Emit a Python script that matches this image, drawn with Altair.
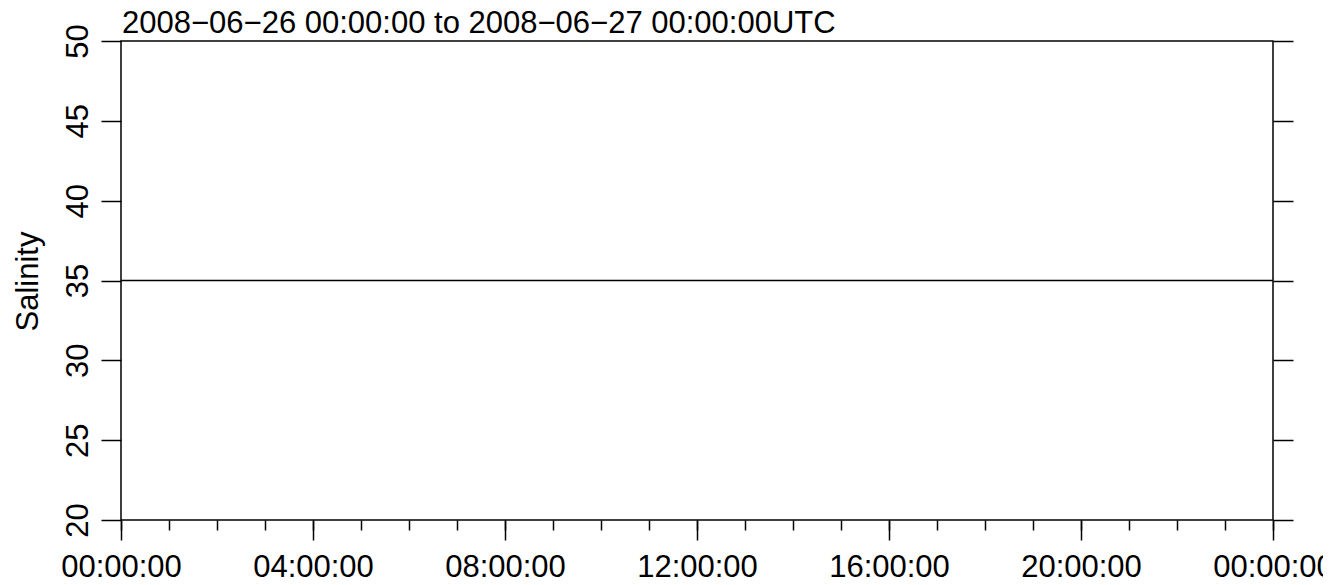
import altair as alt
import pandas as pd

# ---- data ----
times = ["2008-06-26T00:00:00Z", "2008-06-27T00:00:00Z"]
salinity = [35, 35]
title_text = ["2008\u221206\u221226 00:00:00 to 2008\u221206\u221227 00:00:00UTC"]
major_hours = [0, 4, 8, 12, 16, 20, 24]
minor_hours = list(range(0, 25))
y_ticks = [20, 25, 30, 35, 40, 45, 50]

df = pd.DataFrame({"time": times, "salinity": salinity})
tdf = pd.DataFrame({"t": title_text})

FONT = "Liberation Sans"
FS = 31


def hour_dt(h):
    if h >= 24:
        return alt.DateTime(year=2008, month=6, date=27, hours=h - 24, utc=True)
    return alt.DateTime(year=2008, month=6, date=26, hours=h, utc=True)


xscale = alt.Scale(type="utc", domain=[hour_dt(0), hour_dt(24)], nice=False)
yscale = alt.Scale(domain=[20, 50], nice=False, zero=False)

major_axis = alt.Axis(
    orient="bottom", values=[hour_dt(h) for h in major_hours],
    labelExpr="utcFormat(datum.value, '%H:%M:%S')",
    tickSize=20, tickWidth=1.5, tickColor="black", domain=False,
    grid=False, labelFont=FONT, labelFontSize=FS, labelColor="black",
    labelBaseline="alphabetic", labelPadding=36, labelAlign="center",
    labelOverlap=False, labelFlush=False, title=None,
)
minor_axis = alt.Axis(
    orient="bottom", values=[hour_dt(h) for h in minor_hours], tickSize=10,
    tickWidth=1.5, tickColor="black", domain=False, grid=False, labels=False,
    title=None,
)
left_axis = alt.Axis(
    orient="left", values=y_ticks, tickSize=20, tickWidth=1.5, tickColor="black",
    domain=False, grid=False, labelFont=FONT, labelFontSize=FS, labelColor="black",
    labelAngle=270, labelAlign="center", labelBaseline="alphabetic",
    labelPadding=14, labelOverlap=False, labelFlush=False,
    title="Salinity", titleFont=FONT, titleFontSize=FS, titleFontWeight="normal",
    titleColor="black", titleAngle=270, titleAlign="center",
    titleBaseline="alphabetic", titleX=-84, titleY=240,
)
right_axis = alt.Axis(
    orient="right", values=y_ticks, tickSize=20, tickWidth=1.5, tickColor="black",
    domain=False, grid=False, labels=False, title=None,
)

line = alt.Chart(df).mark_line(color="black", strokeWidth=1.5).encode(
    x=alt.X("time:T", scale=xscale, axis=major_axis),
    y=alt.Y("salinity:Q", scale=yscale, axis=left_axis),
)
ghost = alt.Chart(df).mark_line(opacity=0).encode(
    x=alt.X("time:T", scale=xscale, axis=minor_axis),
    y=alt.Y("salinity:Q", scale=yscale, axis=right_axis),
)
title = alt.Chart(tdf).mark_text(
    font=FONT, fontSize=FS, color="black", align="left", baseline="alphabetic"
).encode(text="t:N", x=alt.value(1), y=alt.value(-8))

chart = (
    alt.layer(line, ghost, title)
    .resolve_axis(x="independent", y="independent")
    .properties(
        width=1152, height=479,
        background="white",
        autosize=alt.AutoSizeParams(type="none"),
        padding={"left": 113, "top": 33, "right": 50, "bottom": 57},
    )
    .configure_view(stroke="black", strokeWidth=1.5)
)

chart.save("out.html", embed_options={"renderer": "svg", "actions": False})
